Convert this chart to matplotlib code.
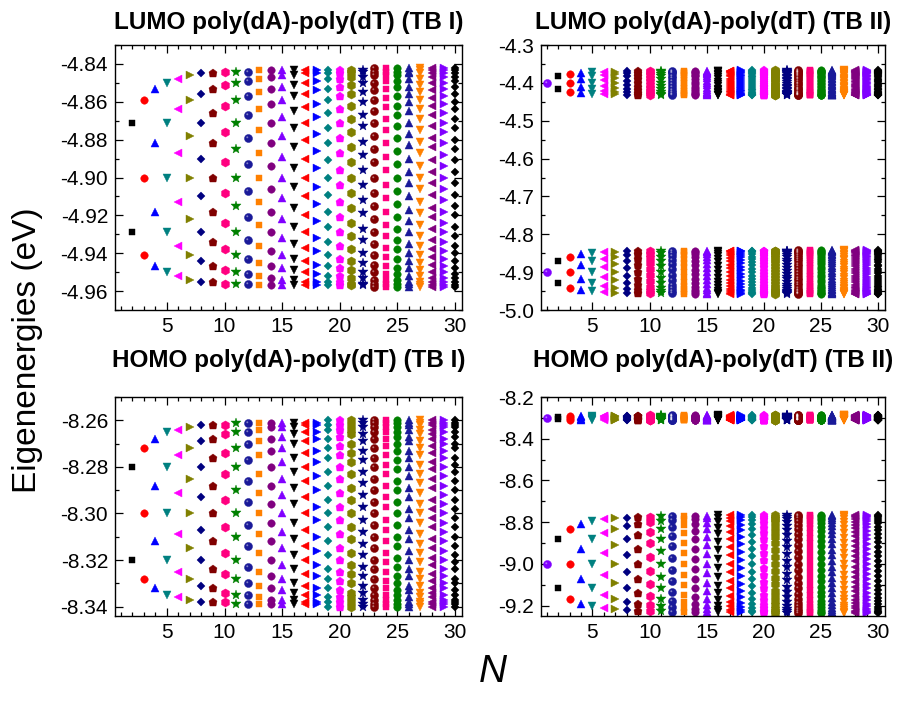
import numpy as np
import matplotlib
matplotlib.use('Agg')
import matplotlib.pyplot as plt
from matplotlib.path import Path
from matplotlib.ticker import MultipleLocator, FormatStrFormatter

plt.rcParams['font.family'] = ['Liberation Sans', 'DejaVu Sans']
plt.rcParams['axes.unicode_minus'] = False

# chain lengths
N_tb1 = [2, 3, 4, 5, 6, 7, 8, 9, 10, 11, 12, 13, 14, 15, 16, 17, 18, 19, 20,
         21, 22, 23, 24, 25, 26, 27, 28, 29, 30]
N_tb2 = [1] + N_tb1

# eigenenergies, in meV relative to a reference level (eV)
lumo_tb1_ref = -4.900
lumo_tb1_mev = [
    [29, -29],
    [41, 0, -41],
    [47, 18, -18, -47],
    [50, 29, 0, -29, -50],
    [52, 36, 13, -13, -36, -52],
    [54, 41, 22, 0, -22, -41, -54],
    [55, 44, 29, 10, -10, -29, -44, -55],
    [55, 47, 34, 18, 0, -18, -34, -47, -55],
    [56, 49, 38, 24, 8, -8, -24, -38, -49, -56],
    [56, 50, 41, 29, 15, 0, -15, -29, -41, -50, -56],
    [56, 51, 43, 33, 21, 7, -7, -21, -33, -43, -51, -56],
    [57, 52, 45, 36, 25, 13, 0, -13, -25, -36, -45, -52, -57],
    [57, 53, 47, 39, 29, 18, 6, -6, -18, -29, -39, -47, -53, -57],
    [57, 54, 48, 41, 32, 22, 11, 0, -11, -22, -32, -41, -48, -54, -57],
    [57, 54, 49, 43, 35, 26, 16, 5, -5, -16, -26, -35, -43, -49, -54, -57],
    [57, 55, 50, 44, 37, 29, 20, 10, 0, -10, -20, -29, -37, -44, -50, -55, -57],
    [57, 55, 51, 46, 39, 32, 23, 14, 5, -5, -14, -23, -32, -39, -46, -51, -55, -57],
    [57, 55, 52, 47, 41, 34, 26, 18, 9, 0, -9, -18, -26, -34, -41, -47, -52, -55, -57],
    [57, 55, 52, 48, 43, 36, 29, 21, 13, 4, -4, -13, -21, -29, -36, -43, -48, -52, -55, -57],
    [57, 56, 53, 49, 44, 38, 31, 24, 16, 8, 0, -8, -16, -24, -31, -38, -44, -49, -53, -56, -57],
    [57, 56, 53, 50, 45, 40, 33, 27, 19, 12, 4, -4, -12, -19, -27, -33, -40, -45, -50, -53, -56, -57],
    [58, 56, 54, 50, 46, 41, 35, 29, 22, 15, 8, 0, -8, -15, -22, -29, -35, -41, -46, -50, -54, -56, -58],
    [58, 56, 54, 51, 47, 42, 37, 31, 25, 18, 11, 4, -4, -11, -18, -25, -31, -37, -42, -47, -51, -54, -56, -58],
    [58, 56, 54, 51, 48, 43, 38, 33, 27, 21, 14, 7, 0, -7, -14, -21, -27, -33, -38, -43, -48, -51, -54, -56, -58],
    [58, 56, 55, 52, 48, 44, 40, 35, 29, 23, 17, 10, 3, -3, -10, -17, -23, -29, -35, -40, -44, -48, -52, -55, -56, -58],
    [58, 57, 55, 52, 49, 45, 41, 36, 31, 25, 19, 13, 6, 0, -6, -13, -19, -25, -31, -36, -41, -45, -49, -52, -55, -57, -58],
    [58, 57, 55, 53, 50, 46, 42, 38, 33, 27, 21, 16, 9, 3, -3, -9, -16, -21, -27, -33, -38, -42, -46, -50, -53, -55, -57, -58],
    [58, 57, 55, 53, 50, 47, 43, 39, 34, 29, 24, 18, 12, 6, 0, -6, -12, -18, -24, -29, -34, -39, -43, -47, -50, -53, -55, -57, -58],
    [58, 57, 55, 53, 51, 48, 44, 40, 36, 31, 26, 20, 15, 9, 3, -3, -9, -15, -20, -26, -31, -36, -40, -44, -48, -51, -53, -55, -57, -58],
]

homo_tb1_ref = -8.300
homo_tb1_mev = [
    [20, -20],
    [28, 0, -28],
    [32, 12, -12, -32],
    [35, 20, 0, -20, -35],
    [36, 25, 9, -9, -25, -36],
    [37, 28, 15, 0, -15, -28, -37],
    [38, 31, 20, 7, -7, -20, -31, -38],
    [38, 32, 24, 12, 0, -12, -24, -32, -38],
    [38, 34, 26, 17, 6, -6, -17, -26, -34, -38],
    [39, 35, 28, 20, 10, 0, -10, -20, -28, -35, -39],
    [39, 35, 30, 23, 14, 5, -5, -14, -23, -30, -35, -39],
    [39, 36, 31, 25, 17, 9, 0, -9, -17, -25, -31, -36, -39],
    [39, 37, 32, 27, 20, 12, 4, -4, -12, -20, -27, -32, -37, -39],
    [39, 37, 33, 28, 22, 15, 8, 0, -8, -15, -22, -28, -33, -37, -39],
    [39, 37, 34, 30, 24, 18, 11, 4, -4, -11, -18, -24, -30, -34, -37, -39],
    [39, 38, 35, 31, 26, 20, 14, 7, 0, -7, -14, -20, -26, -31, -35, -38, -39],
    [39, 38, 35, 32, 27, 22, 16, 10, 3, -3, -10, -16, -22, -27, -32, -35, -38, -39],
    [40, 38, 36, 32, 28, 24, 18, 12, 6, 0, -6, -12, -18, -24, -28, -32, -36, -38, -40],
    [40, 38, 36, 33, 29, 25, 20, 15, 9, 3, -3, -9, -15, -20, -25, -29, -33, -36, -38, -40],
    [40, 38, 36, 34, 30, 26, 22, 17, 11, 6, 0, -6, -11, -17, -22, -26, -30, -34, -36, -38, -40],
    [40, 39, 37, 34, 31, 27, 23, 18, 13, 8, 3, -3, -8, -13, -18, -23, -27, -31, -34, -37, -39, -40],
    [40, 39, 37, 35, 32, 28, 24, 20, 15, 10, 5, 0, -5, -10, -15, -20, -24, -28, -32, -35, -37, -39, -40],
    [40, 39, 37, 35, 32, 29, 25, 21, 17, 12, 7, 3, -3, -7, -12, -17, -21, -25, -29, -32, -35, -37, -39, -40],
    [40, 39, 37, 35, 33, 30, 27, 23, 19, 14, 10, 5, 0, -5, -10, -14, -19, -23, -27, -30, -33, -35, -37, -39, -40],
    [40, 39, 38, 36, 33, 31, 27, 24, 20, 16, 11, 7, 2, -2, -7, -11, -16, -20, -24, -27, -31, -33, -36, -38, -39, -40],
    [40, 39, 38, 36, 34, 31, 28, 25, 21, 17, 13, 9, 4, 0, -4, -9, -13, -17, -21, -25, -28, -31, -34, -36, -38, -39, -40],
    [40, 39, 38, 36, 34, 32, 29, 26, 22, 19, 15, 11, 6, 2, -2, -6, -11, -15, -19, -22, -26, -29, -32, -34, -36, -38, -39, -40],
    [40, 39, 38, 37, 35, 32, 30, 27, 24, 20, 16, 12, 8, 4, 0, -4, -8, -12, -16, -20, -24, -27, -30, -32, -35, -37, -38, -39, -40],
    [40, 39, 38, 37, 35, 33, 30, 28, 24, 21, 18, 14, 10, 6, 2, -2, -6, -10, -14, -18, -21, -24, -28, -30, -33, -35, -37, -38, -39, -40],
]

lumo_tb2_upper_ref = -4.400
lumo_tb2_upper_mev = [
    [0],
    [17, -17],
    [23, 0, -23],
    [27, 10, -10, -27],
    [29, 17, 0, -17, -29],
    [30, 21, 7, -7, -21, -30],
    [30, 23, 13, 0, -13, -23, -30],
    [31, 25, 17, 6, -6, -17, -25, -31],
    [31, 27, 19, 10, 0, -10, -19, -27, -31],
    [32, 28, 22, 14, 5, -5, -14, -22, -28, -32],
    [32, 29, 23, 17, 9, 0, -9, -17, -23, -29, -32],
    [32, 29, 25, 19, 12, 4, -4, -12, -19, -25, -29, -32],
    [32, 30, 26, 21, 14, 7, 0, -7, -14, -21, -26, -30, -32],
    [32, 30, 27, 22, 17, 10, 3, -3, -10, -17, -22, -27, -30, -32],
    [32, 30, 27, 23, 18, 13, 6, 0, -6, -13, -18, -23, -27, -30, -32],
    [32, 31, 28, 24, 20, 15, 9, 3, -3, -9, -15, -20, -24, -28, -31, -32],
    [32, 31, 29, 25, 21, 17, 11, 6, 0, -6, -11, -17, -21, -25, -29, -31, -32],
    [33, 31, 29, 26, 22, 18, 13, 8, 3, -3, -8, -13, -18, -22, -26, -29, -31, -33],
    [33, 31, 29, 27, 23, 19, 15, 10, 5, 0, -5, -10, -15, -19, -23, -27, -29, -31, -33],
    [33, 32, 30, 27, 24, 21, 17, 12, 7, 2, -2, -7, -12, -17, -21, -24, -27, -30, -32, -33],
    [33, 32, 30, 28, 25, 22, 18, 14, 9, 5, 0, -5, -9, -14, -18, -22, -25, -28, -30, -32, -33],
    [33, 32, 30, 28, 26, 23, 19, 15, 11, 7, 2, -2, -7, -11, -15, -19, -23, -26, -28, -30, -32, -33],
    [33, 32, 30, 29, 26, 23, 20, 17, 13, 9, 4, 0, -4, -9, -13, -17, -20, -23, -26, -29, -30, -32, -33],
    [33, 32, 31, 29, 27, 24, 21, 18, 14, 10, 6, 2, -2, -6, -10, -14, -18, -21, -24, -27, -29, -31, -32, -33],
    [33, 32, 31, 29, 27, 25, 22, 19, 15, 12, 8, 4, 0, -4, -8, -12, -15, -19, -22, -25, -27, -29, -31, -32, -33],
    [33, 32, 31, 29, 28, 25, 23, 20, 17, 13, 9, 6, 2, -2, -6, -9, -13, -17, -20, -23, -25, -28, -29, -31, -32, -33],
    [33, 32, 31, 30, 28, 26, 23, 21, 18, 14, 11, 7, 4, 0, -4, -7, -11, -14, -18, -21, -23, -26, -28, -30, -31, -32, -33],
    [33, 32, 31, 30, 28, 26, 24, 21, 19, 15, 12, 9, 5, 2, -2, -5, -9, -12, -15, -19, -21, -24, -26, -28, -30, -31, -32, -33],
    [33, 32, 31, 30, 29, 27, 25, 22, 19, 17, 13, 10, 7, 3, 0, -3, -7, -10, -13, -17, -19, -22, -25, -27, -29, -30, -31, -32, -33],
    [33, 32, 31, 30, 29, 27, 25, 23, 20, 17, 15, 11, 8, 5, 2, -2, -5, -8, -11, -15, -17, -20, -23, -25, -27, -29, -30, -31, -32, -33],
]

# lower LUMO band of TB II sits on the same levels as TB I
lumo_tb2_lower_ref = -4.900
lumo_tb2_lower_mev = [[0]] + lumo_tb1_mev

homo_tb2_upper_ref = -8.300
homo_tb2_upper_mev = [
    [0],
    [6, -6],
    [8, 0, -8],
    [10, 4, -4, -10],
    [10, 6, 0, -6, -10],
    [11, 7, 3, -3, -7, -11],
    [11, 8, 5, 0, -5, -8, -11],
    [11, 9, 6, 2, -2, -6, -9, -11],
    [11, 10, 7, 4, 0, -4, -7, -10, -11],
    [12, 10, 8, 5, 2, -2, -5, -8, -10, -12],
    [12, 10, 8, 6, 3, 0, -3, -6, -8, -10, -12],
    [12, 11, 9, 7, 4, 1, -1, -4, -7, -9, -11, -12],
    [12, 11, 9, 7, 5, 3, 0, -3, -5, -7, -9, -11, -12],
    [12, 11, 10, 8, 6, 4, 1, -1, -4, -6, -8, -10, -11, -12],
    [12, 11, 10, 8, 7, 5, 2, 0, -2, -5, -7, -8, -10, -11, -12],
    [12, 11, 10, 9, 7, 5, 3, 1, -1, -3, -5, -7, -9, -10, -11, -12],
    [12, 11, 10, 9, 8, 6, 4, 2, 0, -2, -4, -6, -8, -9, -10, -11, -12],
    [12, 11, 11, 9, 8, 7, 5, 3, 1, -1, -3, -5, -7, -8, -9, -11, -11, -12],
    [12, 11, 11, 10, 8, 7, 5, 4, 2, 0, -2, -4, -5, -7, -8, -10, -11, -11, -12],
    [12, 11, 11, 10, 9, 7, 6, 4, 3, 1, -1, -3, -4, -6, -7, -9, -10, -11, -11, -12],
    [12, 12, 11, 10, 9, 8, 6, 5, 3, 2, 0, -2, -3, -5, -6, -8, -9, -10, -11, -12, -12],
    [12, 12, 11, 10, 9, 8, 7, 6, 4, 2, 1, -1, -2, -4, -6, -7, -8, -9, -10, -11, -12, -12],
    [12, 12, 11, 10, 10, 8, 7, 6, 5, 3, 2, 0, -2, -3, -5, -6, -7, -8, -10, -10, -11, -12, -12],
    [12, 12, 11, 11, 10, 9, 8, 6, 5, 4, 2, 1, -1, -2, -4, -5, -6, -8, -9, -10, -11, -11, -12, -12],
    [12, 12, 11, 11, 10, 9, 8, 7, 6, 4, 3, 1, 0, -1, -3, -4, -6, -7, -8, -9, -10, -11, -11, -12, -12],
    [12, 12, 11, 11, 10, 9, 8, 7, 6, 5, 3, 2, 1, -1, -2, -3, -5, -6, -7, -8, -9, -10, -11, -11, -12, -12],
    [12, 12, 11, 11, 10, 9, 8, 7, 6, 5, 4, 3, 1, 0, -1, -3, -4, -5, -6, -7, -8, -9, -10, -11, -11, -12, -12],
    [12, 12, 11, 11, 10, 10, 9, 8, 7, 6, 4, 3, 2, 1, -1, -2, -3, -4, -6, -7, -8, -9, -10, -10, -11, -11, -12, -12],
    [12, 12, 11, 11, 10, 10, 9, 8, 7, 6, 5, 4, 2, 1, 0, -1, -2, -4, -5, -6, -7, -8, -9, -10, -10, -11, -11, -12, -12],
    [12, 12, 11, 11, 10, 10, 9, 8, 7, 6, 5, 4, 3, 2, 1, -1, -2, -3, -4, -5, -6, -7, -8, -9, -10, -10, -11, -11, -12, -12],
]

homo_tb2_lower_ref = -9.000
homo_tb2_lower_mev = [
    [0],
    [118, -118],
    [167, 0, -167],
    [191, 73, -73, -191],
    [204, 118, 0, -118, -204],
    [213, 147, 53, -53, -147, -213],
    [218, 167, 90, 0, -90, -167, -218],
    [222, 181, 118, 41, -41, -118, -181, -222],
    [224, 191, 139, 73, 0, -73, -139, -191, -224],
    [226, 199, 155, 98, 34, -34, -98, -155, -199, -226],
    [228, 204, 167, 118, 61, 0, -61, -118, -167, -204, -228],
    [229, 209, 177, 134, 84, 28, -28, -84, -134, -177, -209, -229],
    [230, 213, 185, 147, 102, 53, 0, -53, -102, -147, -185, -213, -230],
    [231, 216, 191, 158, 118, 73, 25, -25, -73, -118, -158, -191, -216, -231],
    [231, 218, 196, 167, 131, 90, 46, 0, -46, -90, -131, -167, -196, -218, -231],
    [232, 220, 201, 174, 142, 105, 65, 22, -22, -65, -105, -142, -174, -201, -220, -232],
    [232, 222, 204, 181, 152, 118, 81, 41, 0, -41, -81, -118, -152, -181, -204, -222, -232],
    [233, 223, 208, 186, 160, 129, 95, 58, 19, -19, -58, -95, -129, -160, -186, -208, -223, -233],
    [233, 224, 210, 191, 167, 139, 107, 73, 37, 0, -37, -73, -107, -139, -167, -191, -210, -224, -233],
    [233, 226, 213, 195, 173, 147, 118, 86, 53, 18, -18, -53, -86, -118, -147, -173, -195, -213, -226, -233],
    [234, 226, 215, 199, 178, 155, 128, 98, 66, 34, 0, -34, -66, -98, -128, -155, -178, -199, -215, -226, -234],
    [234, 227, 216, 202, 183, 161, 136, 109, 79, 48, 16, -16, -48, -79, -109, -136, -161, -183, -202, -216, -227, -234],
    [234, 228, 218, 204, 187, 167, 144, 118, 90, 61, 31, 0, -31, -61, -90, -118, -144, -167, -187, -204, -218, -228, -234],
    [234, 229, 219, 207, 191, 172, 150, 126, 100, 73, 44, 15, -15, -44, -73, -100, -126, -150, -172, -191, -207, -219, -229, -234],
    [234, 229, 221, 209, 194, 177, 156, 134, 110, 84, 56, 28, 0, -28, -56, -84, -110, -134, -156, -177, -194, -209, -221, -229, -234],
    [234, 230, 222, 211, 197, 181, 162, 141, 118, 93, 68, 41, 14, -14, -41, -68, -93, -118, -141, -162, -181, -197, -211, -222, -230, -234],
    [235, 230, 223, 213, 200, 185, 167, 147, 126, 102, 78, 53, 26, 0, -26, -53, -78, -102, -126, -147, -167, -185, -200, -213, -223, -230, -235],
    [235, 230, 224, 214, 202, 188, 171, 153, 132, 111, 87, 63, 38, 13, -13, -38, -63, -87, -111, -132, -153, -171, -188, -202, -214, -224, -230, -235],
    [235, 231, 224, 216, 204, 191, 175, 158, 139, 118, 96, 73, 49, 25, 0, -25, -49, -73, -96, -118, -139, -158, -175, -191, -204, -216, -224, -231, -235],
    [235, 231, 225, 217, 206, 194, 179, 163, 144, 125, 104, 82, 59, 36, 12, -12, -36, -59, -82, -104, -125, -144, -163, -179, -194, -206, -217, -225, -231, -235],
]

# Origin-like symbol cycles (N = 2 starts the cycles)
colors = ['#000000', '#FF0000', '#0000FF', '#008080', '#FF00FF', '#808000',
          '#000080', '#800000', '#FF0080', '#008000', '#1A1A99', '#FF8000',
          '#800080', '#8000FF']
shapes = ['s', 'o', '^', 'v', '<', '>', 'D', 'p', 'h', '*', 'ball']
msize = {'s': 5.0, 'o': 5.4, '^': 6.3, 'v': 6.3, '<': 6.3, '>': 6.3,
         'D': 4.3, 'p': 6.3, 'h': 6.6, '*': 7.2, 'ball': 5.8}

# small off-centre glint for the "sphere" symbol
glint = Path.make_compound_path(Path([(1.0, 1.0)], [Path.MOVETO]),
                                Path.circle((-0.3, 0.3), 0.24))


def draw_level(ax, n, ref, mev):
    y = ref + np.array(mev) / 1000.0
    x = np.full(len(y), n)
    c = colors[(n - 2) % len(colors)]
    m = shapes[(n - 2) % len(shapes)]
    if m == 'ball':
        ax.plot(x, y, 'o', ms=msize[m], color=c, mec=c, mew=0.3, ls='none')
        ax.plot(x, y, marker=glint, ms=msize[m], color='white', alpha=0.45,
                mew=0, ls='none')
    else:
        ax.plot(x, y, marker=m, ms=msize[m], color=c, mec=c, mew=0.3, ls='none')


def style(ax, ylim, major, minor, fmt):
    ax.set_xlim(0.5, 30.6)
    ax.set_ylim(*ylim)
    ax.xaxis.set_major_locator(MultipleLocator(5))
    ax.xaxis.set_minor_locator(MultipleLocator(1))
    ax.yaxis.set_major_locator(MultipleLocator(major))
    ax.yaxis.set_minor_locator(MultipleLocator(minor))
    ax.yaxis.set_major_formatter(FormatStrFormatter(fmt))
    ax.tick_params(which='both', direction='in', top=True, right=True,
                   width=0.9, labelsize=15)
    ax.tick_params(which='major', length=5.5, pad=5)
    ax.tick_params(which='minor', length=3)
    for s in ax.spines.values():
        s.set_linewidth(1.0)


W, H = 898, 718
fig = plt.figure(figsize=(W / 100, H / 100), dpi=100)


def box(x0, x1, y0, y1):
    return [x0 / W, 1 - y1 / H, (x1 - x0) / W, (y1 - y0) / H]


ax_lt = fig.add_axes(box(115, 462, 45, 310))
ax_rt = fig.add_axes(box(541, 885, 45, 310))
ax_lb = fig.add_axes(box(115, 462, 397, 616))
ax_rb = fig.add_axes(box(541, 885, 397, 616))

for n, v in zip(N_tb1, lumo_tb1_mev):
    draw_level(ax_lt, n, lumo_tb1_ref, v)
for n, v in zip(N_tb1, homo_tb1_mev):
    draw_level(ax_lb, n, homo_tb1_ref, v)
for n, vu, vl in zip(N_tb2, lumo_tb2_upper_mev, lumo_tb2_lower_mev):
    draw_level(ax_rt, n, lumo_tb2_upper_ref, vu)
    draw_level(ax_rt, n, lumo_tb2_lower_ref, vl)
for n, vu, vl in zip(N_tb2, homo_tb2_upper_mev, homo_tb2_lower_mev):
    draw_level(ax_rb, n, homo_tb2_upper_ref, vu)
    draw_level(ax_rb, n, homo_tb2_lower_ref, vl)

style(ax_lt, (-4.97, -4.83), 0.02, 0.01, '%.2f')
style(ax_rt, (-5.0, -4.3), 0.1, 0.05, '%.1f')
style(ax_lb, (-8.344, -8.250), 0.02, 0.01, '%.2f')
style(ax_rb, (-9.25, -8.2), 0.2, 0.1, '%.1f')

titles = [(ax_lt, 'LUMO poly(dA)-poly(dT) (TB I)', 22),
          (ax_rt, 'LUMO poly(dA)-poly(dT) (TB II)', 22),
          (ax_lb, 'HOMO poly(dA)-poly(dT) (TB I)', 361),
          (ax_rb, 'HOMO poly(dA)-poly(dT) (TB II)', 361)]
for ax, t, ypx in titles:
    p = ax.get_position()
    fig.text((p.x0 + p.x1) / 2, 1 - ypx / H, t, fontsize=17.5, fontweight='bold',
             ha='center', va='center')

fig.text(28 / W, 1 - 350 / H, 'Eigenenergies (eV)', rotation=90, fontsize=24,
         ha='center', va='center')
fig.text(493 / W, 1 - 672 / H, 'N', fontstyle='italic', fontsize=28,
         ha='center', va='center')

fig.savefig('out.png', dpi=100)
